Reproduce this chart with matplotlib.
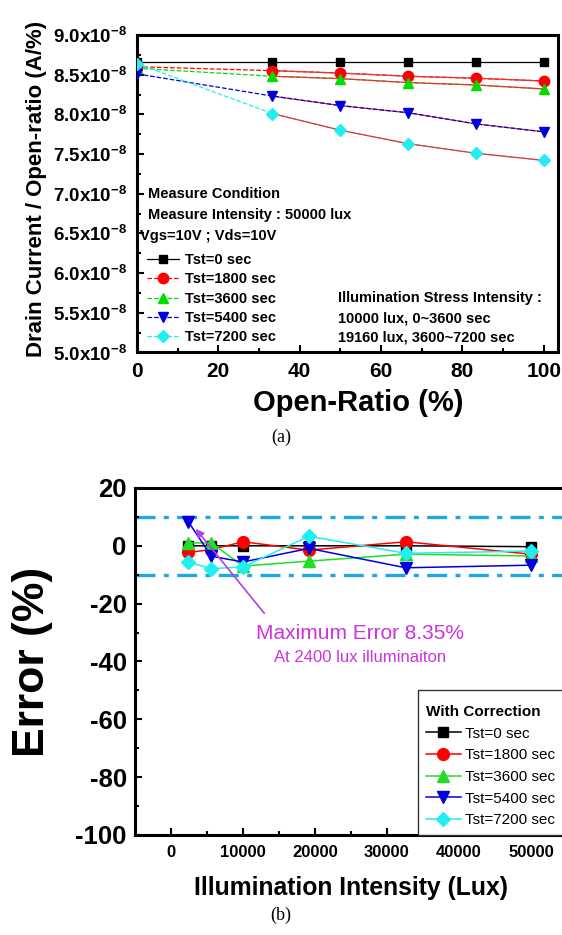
import matplotlib
matplotlib.use('Agg')
import matplotlib.pyplot as plt
from matplotlib.ticker import MultipleLocator
from matplotlib.lines import Line2D
from matplotlib.patches import Rectangle

plt.rcParams['font.family'] = ['Liberation Sans', 'DejaVu Sans']
plt.rcParams['mathtext.fontset'] = 'custom'
plt.rcParams['mathtext.rm'] = 'Liberation Sans:bold'
plt.rcParams['mathtext.it'] = 'Liberation Sans:bold'
plt.rcParams['mathtext.bf'] = 'Liberation Sans:bold'
plt.rcParams['mathtext.default'] = 'rm'

# ---- panel (a) data : drain current / open-ratio (x1e-8 A/%)
open_ratio = [0, 33.3, 50, 66.7, 83.3, 100]
cur_0 = [8.66, 8.66, 8.66, 8.66, 8.66, 8.66]
cur_1800 = [8.60, 8.55, 8.52, 8.48, 8.455, 8.42]
cur_3600 = [8.58, 8.48, 8.45, 8.40, 8.37, 8.32]
cur_5400 = [8.51, 8.23, 8.11, 8.02, 7.88, 7.78]
cur_7200 = [8.64, 8.01, 7.80, 7.63, 7.51, 7.42]
yticks_a = [5.0, 5.5, 6.0, 6.5, 7.0, 7.5, 8.0, 8.5, 9.0]

# ---- panel (b) data : error (%)
lux = [2400, 5600, 10000, 19160, 32600, 50000]
err_0 = [0, 0, 0, 0, 0, -0.3]
err_1800 = [-2.3, -1.3, 1.4, -1.5, 1.4, -2.9]
err_3600 = [1.0, 1.0, -7.0, -5.3, -2.9, -3.5]
err_5400 = [8.35, -3.6, -5.6, -0.9, -7.6, -6.7]
err_7200 = [-5.6, -7.9, -7.3, 3.3, -2.6, -1.8]

labels = ['Tst=0 sec', 'Tst=1800 sec', 'Tst=3600 sec', 'Tst=5400 sec', 'Tst=7200 sec']
colors = ['black', '#FF0000', '#00DD00', '#0000DD', '#22EEF0']
markers = ['s', 'o', '^', 'v', 'D']

fig = plt.figure(figsize=(5.62, 9.35), dpi=100)

# ================= (a)
ax = fig.add_axes([0.2438, 0.6230, 0.7491, 0.3396])
series_a = [cur_0, cur_1800, cur_3600, cur_5400, cur_7200]
handles = []
for i, ys in enumerate(series_a):
    ys = [v * 1e-8 for v in ys]
    ls = '-' if i == 0 else '--'
    ms = 6 if i == 0 else 7.5
    if markers[i] == 'D':
        ms = 6.5
    ax.plot(open_ratio, ys, linestyle=ls, color=colors[i], lw=0.9, zorder=2)
    if i > 0:
        # fitted curve through the measured points
        ax.plot(open_ratio[1:], ys[1:], color='#EE3030', lw=0.9,
                zorder=1.5 if i == 3 else 2.5)
    ax.plot(open_ratio, ys, linestyle='none', marker=markers[i], ms=ms,
            mec=colors[i], mfc=colors[i], zorder=3)
    handles.append(Line2D([], [], linestyle=ls, color=colors[i], lw=0.9,
                          marker=markers[i], ms=ms, mec=colors[i], mfc=colors[i]))

ax.set_xlim(0, 103.5)
ax.set_ylim(5e-8, 9e-8)
ax.set_yticks([v * 1e-8 for v in yticks_a])
ax.set_yticklabels(['%.1fx10$^{-8}$' % v for v in yticks_a], fontsize=13.5, fontweight='bold')
ax.set_xticks([0, 20, 40, 60, 80, 100])
ax.set_xticklabels(['0', '20', '40', '60', '80', '100'], fontsize=15, fontweight='bold')
ax.xaxis.set_minor_locator(MultipleLocator(10))
ax.yaxis.set_minor_locator(MultipleLocator(0.25e-8))
ax.tick_params(which='both', direction='in', top=False, right=False, width=1.5)
ax.tick_params(which='major', length=5)
ax.tick_params(which='minor', length=3)
ax.tick_params(axis='x', pad=7)
ax.tick_params(axis='y', pad=7)
for sp in ax.spines.values():
    sp.set_linewidth(2.2)
ax.set_xlabel('Open-Ratio (%)', fontsize=21, fontweight='bold')
ax.xaxis.set_label_coords(0.525, -0.115)
ax.set_ylabel('Drain Current / Open-ratio (A/%)', fontsize=16, fontweight='bold')
ax.yaxis.set_label_coords(-0.214, 0.515)

tf = dict(fontsize=10.5, fontweight='bold', transform=ax.transAxes, va='center')
ax.text(0.025, 0.50, 'Measure Condition', **tf)
ax.text(0.025, 0.432, 'Measure Intensity : 50000 lux', **tf)
ax.text(0.008, 0.366, 'Vgs=10V ; Vds=10V', **tf)
ax.text(0.478, 0.171, 'Illumination Stress Intensity :', **tf)
ax.text(0.478, 0.108, '10000 lux, 0~3600 sec', **tf)
ax.text(0.478, 0.048, '19160 lux, 3600~7200 sec', **tf)
ax.legend(handles, labels, loc='upper left', bbox_to_anchor=(0.0, 0.345),
          frameon=False, prop={'size': 10.5, 'weight': 'bold'},
          handlelength=2.2, handletextpad=0.4, labelspacing=0.36, borderpad=0.2)

fig.text(0.5, 1 - 437 / 935, '(a)', ha='center', va='center', fontsize=13, family='Liberation Serif')

# ================= (b)
bx = fig.add_axes([0.2402, 0.1070, 0.7687, 0.3711])
bx.axhline(10, color='#1EA8E0', lw=2.4, ls=(0, (6, 2.5, 1.5, 2.5)), zorder=1)
bx.axhline(-10, color='#1EA8E0', lw=2.4, ls=(0, (6, 2.5, 1.5, 2.5)), zorder=1)
series_b = [err_0, err_1800, err_3600, err_5400, err_7200]
bcolors = ['black', '#FF0000', '#22DD22', '#0000DD', '#22EEF0']
bhandles = []
for i, ys in enumerate(series_b):
    ms = 7 if markers[i] == 's' else 8.5
    if markers[i] == 'D':
        ms = 7
    ln, = bx.plot(lux, ys, color=bcolors[i], lw=1.1, marker=markers[i], ms=ms,
                  mec=bcolors[i], mfc=bcolors[i], zorder=3)
    bhandles.append(ln)

bx.set_xlim(-5000, 55000)
bx.set_ylim(-100, 20)
bx.set_xticks([0, 10000, 20000, 30000, 40000, 50000])
bx.set_xticklabels(['0', '10000', '20000', '30000', '40000', '50000'], fontsize=12, fontweight='bold')
bx.set_yticks([-100, -80, -60, -40, -20, 0, 20])
bx.set_yticklabels(['-100', '-80', '-60', '-40', '-20', '0', '20'], fontsize=18.5, fontweight='bold')
bx.xaxis.set_minor_locator(MultipleLocator(5000))
bx.yaxis.set_minor_locator(MultipleLocator(10))
bx.tick_params(which='both', direction='in', top=False, right=False, width=1.5)
bx.tick_params(which='major', length=5)
bx.tick_params(which='minor', length=3)
bx.tick_params(axis='x', pad=7)
bx.tick_params(axis='y', pad=6)
for sp in bx.spines.values():
    sp.set_linewidth(2.2)
bx.set_xlabel('Illumination Intensity (Lux)', fontsize=17.8, fontweight='bold', labelpad=12)
bx.set_ylabel('Error (%)', fontsize=32, fontweight='bold')
bx.yaxis.set_label_coords(-0.19, 0.5)

bx.annotate('', xy=(3200, 6.6), xytext=(13200, -24.1),
            arrowprops=dict(arrowstyle='-|>', color='#B040E8', lw=1.2, mutation_scale=12))
bx.text(26250, -30.5, 'Maximum Error 8.35%', color='#CC33DD', fontsize=15, ha='center', va='center')
bx.text(26250, -38.5, 'At 2400 lux illuminaiton', color='#CC33DD', fontsize=12, ha='center', va='center')

# legend box drawn separately so its top padding matches
bx.add_patch(Rectangle((0.655, 0.0), 0.4, 0.418, transform=bx.transAxes, facecolor='white',
                       edgecolor='#333333', lw=1.0, zorder=4, clip_on=False))
leg = bx.legend(bhandles, labels, title='With Correction', loc='lower left',
                bbox_to_anchor=(0.655, 0.0), borderaxespad=0, fontsize=11,
                title_fontproperties={'size': 11, 'weight': 'bold'},
                handlelength=2.3, handletextpad=0.3, labelspacing=0.5, borderpad=0.5,
                frameon=False)
leg.set_zorder(5)
leg._legend_box.align = 'left'

fig.text(0.5, 1 - 915 / 935, '(b)', ha='center', va='center', fontsize=13, family='Liberation Serif')

fig.savefig('out.png', dpi=100)
